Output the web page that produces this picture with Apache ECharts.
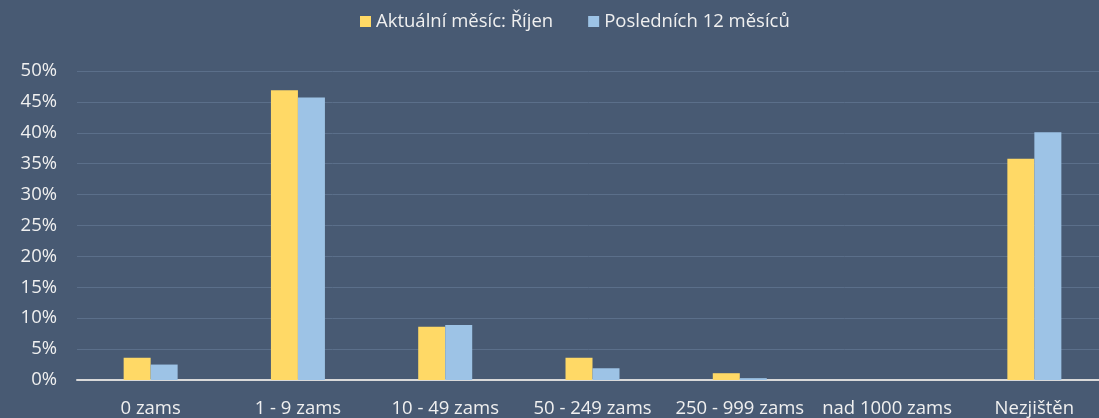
<!DOCTYPE html>
<html><head><meta charset="utf-8">
<script src="https://cdn.jsdelivr.net/npm/echarts@6/dist/echarts.min.js"></script>
<style>html,body{margin:0;padding:0;background:#485a73;}#c{width:1099px;height:418px;}</style>
</head><body><div id="c"></div>
<script>
const categories = ['0 zams', '1 - 9 zams', '10 - 49 zams', '50 - 249 zams', '250 - 999 zams', 'nad 1000 zams', 'Nezjištěn'];
const seriesNames = ['Aktuální měsíc: Říjen', 'Posledních 12 měsíců'];
const currentMonth = [3.6, 46.9, 8.6, 3.6, 1.1, 0, 35.8];
const last12Months = [2.5, 45.7, 8.9, 1.9, 0.3, 0, 40.1];
const yTicks = [0, 5, 10, 15, 20, 25, 30, 35, 40, 45, 50];

const chart = echarts.init(document.getElementById('c'));
const font = 'Open Sans, Noto Sans, sans-serif';
const fs = 18.5;
chart.setOption({
  backgroundColor: '#485a73',
  animation: false,
  textStyle: { fontFamily: font },
  legend: {
    top: 7, left: 355, itemWidth: 11, itemHeight: 11, itemGap: 35,
    icon: 'rect',
    textStyle: { color: '#f0f0f0', fontSize: fs, fontFamily: font },
    data: seriesNames
  },
  grid: { left: 77, width: 1031, top: 71, bottom: 38, containLabel: false, outerBoundsMode: 'none' },
  xAxis: {
    type: 'category', data: categories,
    axisLine: { lineStyle: { color: '#d9d9d9', width: 2 } },
    axisTick: { show: false },
    axisLabel: { color: '#f0f0f0', fontSize: fs, margin: 19, interval: 0 }
  },
  yAxis: {
    type: 'value', min: yTicks[0], max: yTicks[yTicks.length - 1], interval: 5,
    axisLine: { show: false }, axisTick: { show: false },
    axisLabel: { color: '#f0f0f0', fontSize: fs, margin: 20, formatter: v => v + '%' },
    splitLine: { lineStyle: { color: '#5b6f8a', width: 1 } }
  },
  series: [
    { name: seriesNames[0], type: 'bar', data: currentMonth, barWidth: 27, barGap: '0%',
      itemStyle: { color: '#ffd966' } },
    { name: seriesNames[1], type: 'bar', data: last12Months, barWidth: 27,
      itemStyle: { color: '#9dc3e6' } }
  ]
});
</script></body></html>
